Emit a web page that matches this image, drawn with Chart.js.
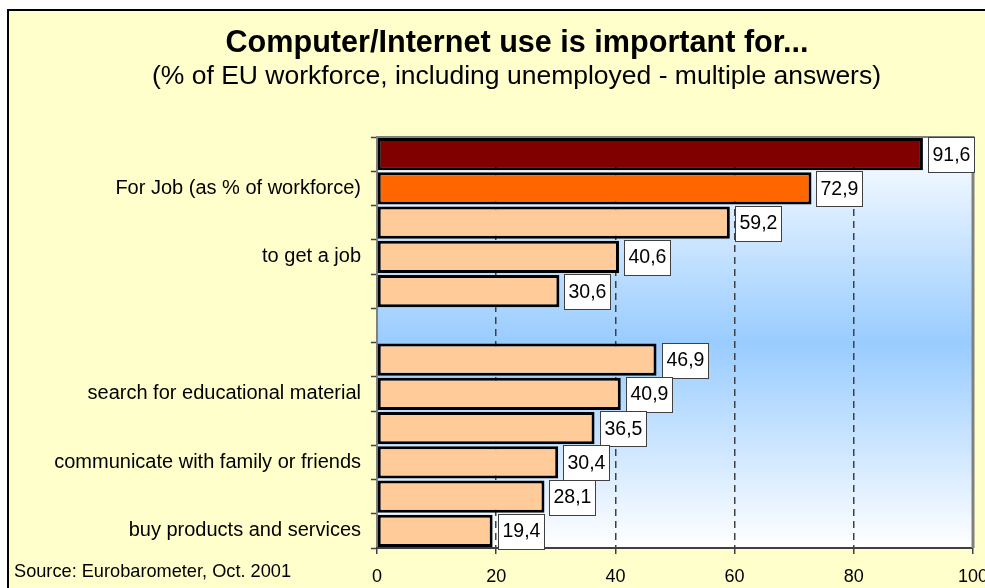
<!DOCTYPE html>
<html><head><meta charset="utf-8">
<script src="https://cdn.jsdelivr.net/npm/chart.js@4.4.0/dist/chart.umd.min.js"></script>
<style>html,body{margin:0;padding:0;background:#fff;overflow:hidden}canvas{display:block}</style>
</head><body>
<canvas id="c" width="985" height="588" style="width:985px;height:588px"></canvas>
<script>
// ---- data ----
const categories = ['', 'For Job (as % of workforce)', '', 'to get a job', '', '', '', 'search for educational material', '', 'communicate with family or friends', '', 'buy products and services'];
const values = [91.6, 72.9, 59.2, 40.6, 30.6, null, 46.9, 40.9, 36.5, 30.4, 28.1, 19.4];
const xTicks = [0, 20, 40, 60, 80, 100];
const titleText = 'Computer/Internet use is important for...';
const subtitleText = '(% of EU workforce, including unemployed - multiple answers)';
const sourceText = 'Source: Eurobarometer, Oct. 2001';

const FONT = '"Liberation Sans", Arial, sans-serif';

const decor = {
  id: 'decor',
  beforeDraw(chart) {
    const {ctx, chartArea: a, width, height} = chart;
    ctx.save();
    ctx.fillStyle = '#fff'; ctx.fillRect(0, 0, width, height);
    ctx.fillStyle = '#000'; ctx.fillRect(7, 9, width, height);
    ctx.fillStyle = '#FFFFCC'; ctx.fillRect(9, 11, width, height);
    const g = ctx.createLinearGradient(0, a.top, 0, a.bottom);
    g.addColorStop(0, '#FFFFFF');
    g.addColorStop(0.5, '#99CCFF');
    g.addColorStop(1, '#FFFFFF');
    ctx.fillStyle = g;
    ctx.fillRect(a.left, a.top, a.right - a.left, a.bottom - a.top);
    ctx.fillStyle = '#000';
    ctx.textAlign = 'center'; ctx.textBaseline = 'alphabetic';
    ctx.font = 'bold 30.6px ' + FONT; ctx.fillText(titleText, 517, 52);
    ctx.font = '26.5px ' + FONT; ctx.fillText(subtitleText, 516.5, 83.5);
    ctx.textAlign = 'left';
    ctx.font = '18.2px ' + FONT; ctx.fillText(sourceText, 14, 577);
    ctx.restore();
  },
  beforeDatasetsDraw(chart) {
    const {ctx, chartArea: a} = chart;
    ctx.save();
    ctx.strokeStyle = '#808080';
    ctx.lineWidth = 2;
    ctx.beginPath(); ctx.moveTo(a.left, a.top); ctx.lineTo(a.right, a.top); ctx.stroke();
    ctx.lineWidth = 3;
    ctx.beginPath(); ctx.moveTo(a.right, a.top - 1); ctx.lineTo(a.right, a.bottom); ctx.stroke();
    ctx.restore();
  },
  afterDatasetsDraw(chart) {
    const {ctx} = chart;
    const meta = chart.getDatasetMeta(0);
    ctx.save();
    ctx.font = '19.5px ' + FONT;
    ctx.textBaseline = 'middle'; ctx.textAlign = 'left';
    meta.data.forEach((bar, i) => {
      const v = values[i];
      if (v == null) return;
      const txt = v.toFixed(1).replace('.', ',');
      const w = Math.round(ctx.measureText(txt).width + 8);
      const bx = Math.round(bar.x + 5) + 0.5, by = Math.round(bar.y - 17) + 0.5;
      ctx.fillStyle = '#fff'; ctx.fillRect(bx, by, w, 35);
      ctx.strokeStyle = '#404040'; ctx.lineWidth = 1; ctx.strokeRect(bx, by, w, 35);
      ctx.fillStyle = '#000'; ctx.fillText(txt, bx + 4, bar.y + 1);
    });
    ctx.restore();
  }
};

new Chart(document.getElementById('c'), {
  type: 'bar',
  data: {
    labels: categories,
    datasets: [{
      data: values,
      backgroundColor: (c) => c.dataIndex === 0 ? '#800000' : (c.dataIndex === 1 ? '#FF6600' : '#FFCC99'),
      borderColor: '#000',
      borderWidth: 3,
      borderSkipped: false,
      barPercentage: 0.94,
      categoryPercentage: 1
    }]
  },
  options: {
    indexAxis: 'y',
    responsive: false,
    animation: false,
    layout: {padding: {left: 0, right: 12, top: 137, bottom: 0}},
    plugins: {legend: {display: false}, tooltip: {enabled: false}, title: {display: false}},
    scales: {
      y: {
        type: 'category',
        offset: true,
        grid: {offset: true, drawOnChartArea: false, drawTicks: true, tickLength: 6, tickColor: '#404040', tickWidth: 1.5},
        border: {display: true, color: '#808080', width: 2},
        ticks: {autoSkip: false, color: '#000', font: {family: FONT, size: 20}, padding: 10},
        afterFit(s) { s.width = 377; s.paddingTop = 0; s.paddingBottom = 0; }
      },
      x: {
        type: 'linear', min: 0, max: 100,
        afterBuildTicks(s) { s.ticks = xTicks.map(v => ({value: v})); },
        grid: {
          color: (c) => (c.tick && (c.tick.value === 0 || c.tick.value === 100)) ? 'rgba(0,0,0,0)' : '#404040',
          lineWidth: 1.5, drawTicks: true, tickLength: 6, tickColor: '#404040', tickWidth: 1.5
        },
        border: {display: true, color: '#404040', width: 2, dash: [7, 5]},
        ticks: {color: '#000', font: {family: FONT, size: 18}, padding: 12, maxRotation: 0, autoSkip: false},
        afterFit(s) { s.height = 40; s.paddingLeft = 0; s.paddingRight = 0; }
      }
    }
  },
  plugins: [decor]
});
</script>
</body></html>
